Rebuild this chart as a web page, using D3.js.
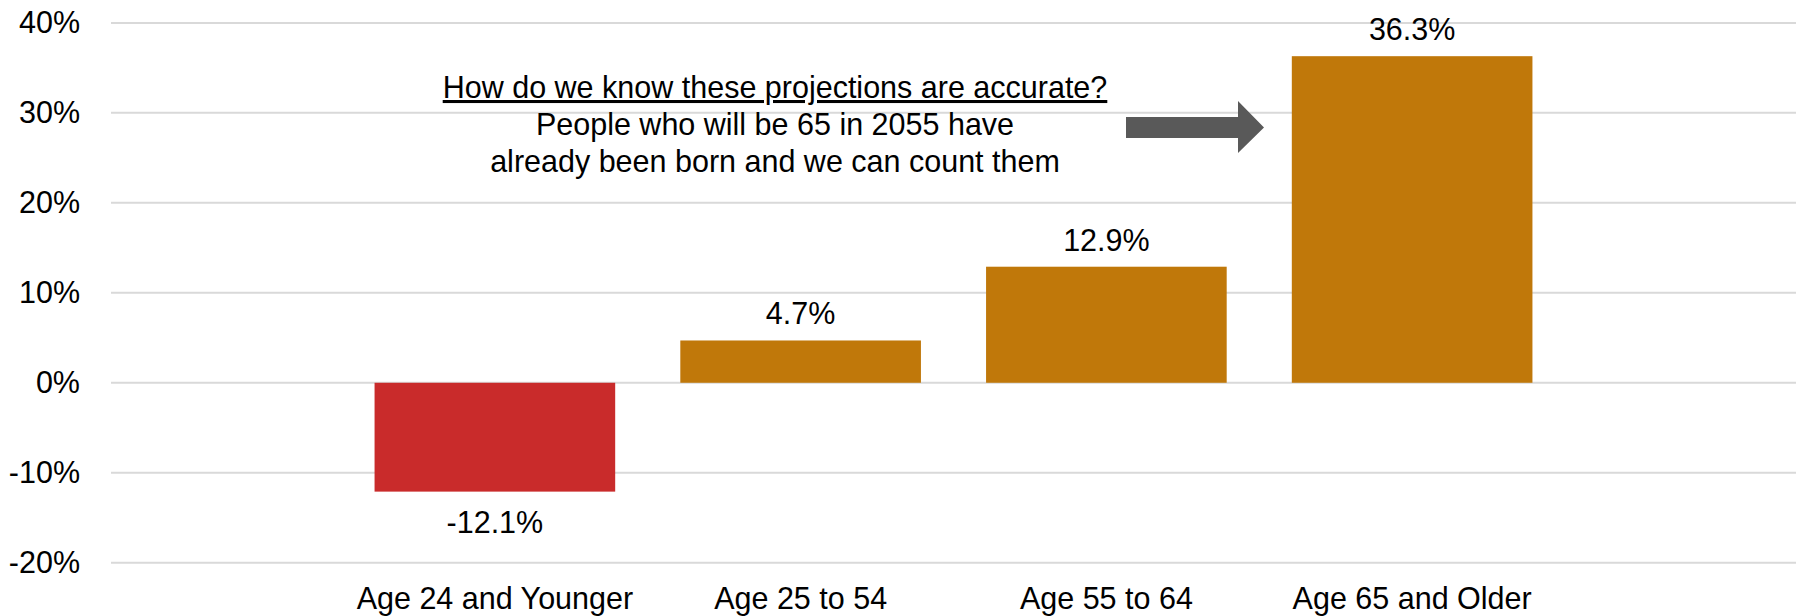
<!DOCTYPE html>
<html lang="en">
<head>
  <meta charset="utf-8">
  <title>Population change by age group</title>
  <script src="https://cdn.jsdelivr.net/npm/d3@7"></script>
  <style>
    body { margin: 0; background: #fff; }
    svg text { font-family: "Liberation Sans", Arial, sans-serif; fill: #000; }
  </style>
</head>
<body>
<div id="chart"></div>
<script>
// data
var categories = ["Age 24 and Younger", "Age 25 to 54", "Age 55 to 64", "Age 65 and Older"];
var values = [-12.1, 4.7, 12.9, 36.3];
var yTicks = [-20, -10, 0, 10, 20, 30, 40];
var noteLines = ["How do we know these projections are accurate?",
                 "People who will be 65 in 2055 have",
                 "already been born and we can count them"];

var width = 1797, height = 616;
var fontSize = 30.5;

var svg = d3.select("#chart").append("svg")
    .attr("width", width)
    .attr("height", height);

// y scale
var y = d3.scaleLinear()
    .domain([-20, 40])
    .range([562.7, 22.9]);

// x scale - the bars only use the middle part of the plot
var x = d3.scaleBand()
    .domain(categories)
    .range([342, 1565])
    .paddingInner(0.213)
    .paddingOuter(0.1065);

// gridlines
svg.append("g")
    .selectAll("line")
    .data(yTicks)
    .enter().append("line")
    .attr("x1", 111)
    .attr("x2", 1796)
    .attr("y1", d => y(d))
    .attr("y2", d => y(d))
    .style("stroke", "#d9d9d9")
    .style("stroke-width", 2);

// y axis labels
var yAxis = d3.axisLeft(y)
    .tickValues(yTicks)
    .tickFormat(d => d + "%")
    .tickSize(0)
    .tickPadding(0);

svg.append("g")
    .attr("transform", "translate(80,0)")
    .call(yAxis)
    .call(g => g.select(".domain").remove())
    .selectAll("text")
    .attr("font-size", fontSize)
    .attr("font-family", "Liberation Sans, Arial, sans-serif")
    .style("fill", "#000");

// bars
svg.selectAll("rect.bar")
    .data(values)
    .enter().append("rect")
    .attr("class", "bar")
    .attr("x", (d, i) => x(categories[i]))
    .attr("y", d => y(Math.max(0, d)))
    .attr("width", x.bandwidth())
    .attr("height", d => Math.abs(y(d) - y(0)))
    .style("fill", d => d < 0 ? "#c92b2b" : "#c0780a");

// value labels
svg.selectAll("text.val")
    .data(values)
    .enter().append("text")
    .attr("class", "val")
    .attr("x", (d, i) => x(categories[i]) + x.bandwidth() / 2)
    .attr("y", d => d < 0 ? y(d) + 41 : y(d) - 16)
    .attr("text-anchor", "middle")
    .attr("font-size", fontSize)
    .text(d => d.toFixed(1) + "%");

// category labels
svg.append("g")
    .attr("transform", "translate(0,598)")
    .call(d3.axisBottom(x).tickSize(0).tickPadding(0))
    .call(g => g.select(".domain").remove())
    .selectAll("text")
    .attr("dy", "0.35em")
    .attr("font-size", fontSize)
    .attr("font-family", "Liberation Sans, Arial, sans-serif")
    .style("fill", "#000");

// note
var note = svg.append("text")
    .attr("text-anchor", "middle")
    .attr("font-size", fontSize);

note.selectAll("tspan")
    .data(noteLines)
    .enter().append("tspan")
    .attr("x", 775)
    .attr("y", (d, i) => 98 + i * 37)
    .style("text-decoration", (d, i) => i == 0 ? "underline" : null)
    .text(d => d);

// block arrow
var arrow = [[1126, 117], [1238, 117], [1238, 101], [1264, 127.5],
             [1238, 153], [1238, 138], [1126, 138]];
svg.append("path")
    .attr("d", d3.line()(arrow) + "Z")
    .style("fill", "#595959");
</script>
</body>
</html>
